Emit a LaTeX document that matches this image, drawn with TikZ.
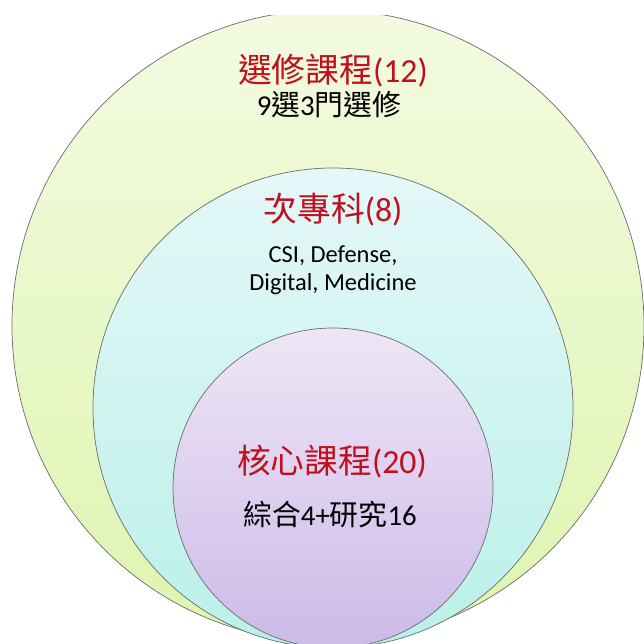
\documentclass[tikz,border=0pt]{standalone}
\usepackage{fontspec}
\setmainfont{Carlito}
\newfontfamily\cjk{Noto Sans CJK TC}
\usetikzlibrary{positioning}

\definecolor{ringred}{RGB}{192,16,32}
\definecolor{outertop}{RGB}{243,250,224}
\definecolor{outerbot}{RGB}{222,245,176}
\definecolor{midtop}{RGB}{228,248,248}
\definecolor{midbot}{RGB}{186,240,232}
\definecolor{innertop}{RGB}{238,230,246}
\definecolor{innerbot}{RGB}{204,186,232}

\tikzset{
  ring/.style={draw=gray!85!black, line width=0.5pt, circle, inner sep=0pt, outer sep=0pt},
  title/.style={text=ringred, font=\fontsize{24}{28}\selectfont, inner sep=0pt},
  note/.style={text=black, font=\fontsize{20.5}{24}\selectfont, inner sep=0pt},
  small/.style={text=black, font=\fontsize{17.4}{20}\selectfont, align=center, inner sep=0pt}
}

\begin{document}
\begin{tikzpicture}[x=0.25mm, y=-0.25mm]
\useasboundingbox (0,0) rectangle (644,644);

% Nested rings
\begin{scope}
\clip (0,15) rectangle (644,644);
\node[ring, minimum size=158mm, top color=outertop, bottom color=outerbot] (elective) at (328,326) {};
\node[ring, minimum size=120mm, top color=midtop, bottom color=midbot] (subspec) at (333,408) {};
\node[ring, minimum size=80mm, top color=innertop, bottom color=innerbot] (core) at (333,488) {};
\end{scope}

% Labels
\node[title] (electivename) at (333,71) {{\cjk 選修課程}(12)};
\node[note] (electivenote) at (329,105) {9{\cjk 選}3{\cjk 門選修}};
\node[title] (subspecname) at (333,210) {{\cjk 次專科}(8)};
\node[small] (subspecnote) at (333,270) {CSI, Defense,\\Digital, Medicine};
\node[title] (corename) at (332,462) {{\cjk 核心課程}(20)};
\node[note] (corenote) at (330,515) {{\cjk 綜合}4+{\cjk 研究}16};
\end{tikzpicture}
\end{document}
